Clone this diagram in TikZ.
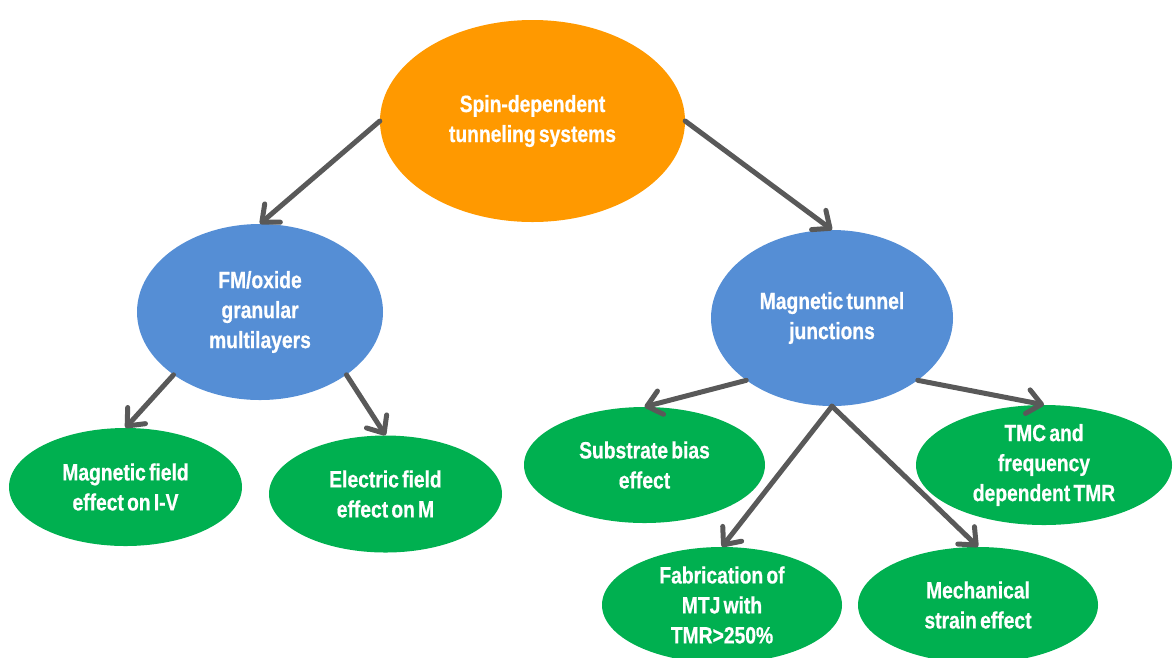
\documentclass[tikz,border=0pt]{standalone}
\usepackage{fontspec}
\setmainfont{Liberation Sans}[FakeStretch=0.82, WordSpace=0.6, BoldFeatures={FakeBold=0.6}]
\usetikzlibrary{shapes.geometric,arrows.meta}
\definecolor{rootfill}{HTML}{FF9900}
\definecolor{branchfill}{HTML}{558ED5}
\definecolor{leaffill}{HTML}{00B050}
\definecolor{linkgray}{HTML}{595959}
\begin{document}
\begin{tikzpicture}[x=1pt,y=-1pt,
  bubble/.style={ellipse, inner sep=0pt, text=white, align=center,
    font=\fontsize{23.5}{30}\selectfont\bfseries},
  rootnode/.style={bubble, fill=rootfill},
  branch/.style={bubble, fill=branchfill},
  leaf/.style={bubble, fill=leaffill},
  link/.style={draw=linkgray, line width=5pt, line cap=round,
    -{Straight Barb[length=14pt,width=24pt,round]}}]
\useasboundingbox (0,0) rectangle (1174,657);
\clip (0,0) rectangle (1174,657);

% top level
\node[rootnode, minimum width=305pt, minimum height=202pt] (root) at (532.5,121)
  {Spin-dependent\\tunneling systems};

% second level
\node[branch, minimum width=246pt, minimum height=176pt] (fm) at (260,312)
  {FM/oxide\\granular\\multilayers};
\node[branch, minimum width=242pt, minimum height=176pt] (mtj) at (832,318)
  {Magnetic tunnel\\junctions};

% leaves
\node[leaf, minimum width=233pt, minimum height=118pt] (iv) at (125.5,487)
  {Magnetic field\\effect on I-V};
\node[leaf, minimum width=233pt, minimum height=117pt] (em) at (385.5,494)
  {Electric field\\effect on M};
\node[leaf, minimum width=241pt, minimum height=116pt] (sb) at (644.5,465)
  {Substrate bias\\effect};
\node[leaf, minimum width=256pt, minimum height=120pt] (tmc) at (1044,465)
  {TMC and\\frequency\\dependent TMR};
\node[leaf, minimum width=240pt, minimum height=116pt] (fab) at (722,605)
  {Fabrication of\\MTJ with\\TMR>250\%};
\node[leaf, minimum width=240pt, minimum height=116pt] (ms) at (978,605)
  {Mechanical\\strain effect};

% connectors
\draw[link] (root.west) -- (fm.north);
\draw[link] (root.east) -- (mtj.north);
\draw[link] (fm.216) -- (iv.north);
\draw[link] (fm.324) -- (em.north);
\draw[link] (mtj.216) -- (sb.north);
\draw[link] (mtj.324) -- (tmc.north);
\draw[link] (mtj.south) -- (fab.north);
\draw[link] (mtj.south) -- (ms.north);
\end{tikzpicture}
\end{document}
